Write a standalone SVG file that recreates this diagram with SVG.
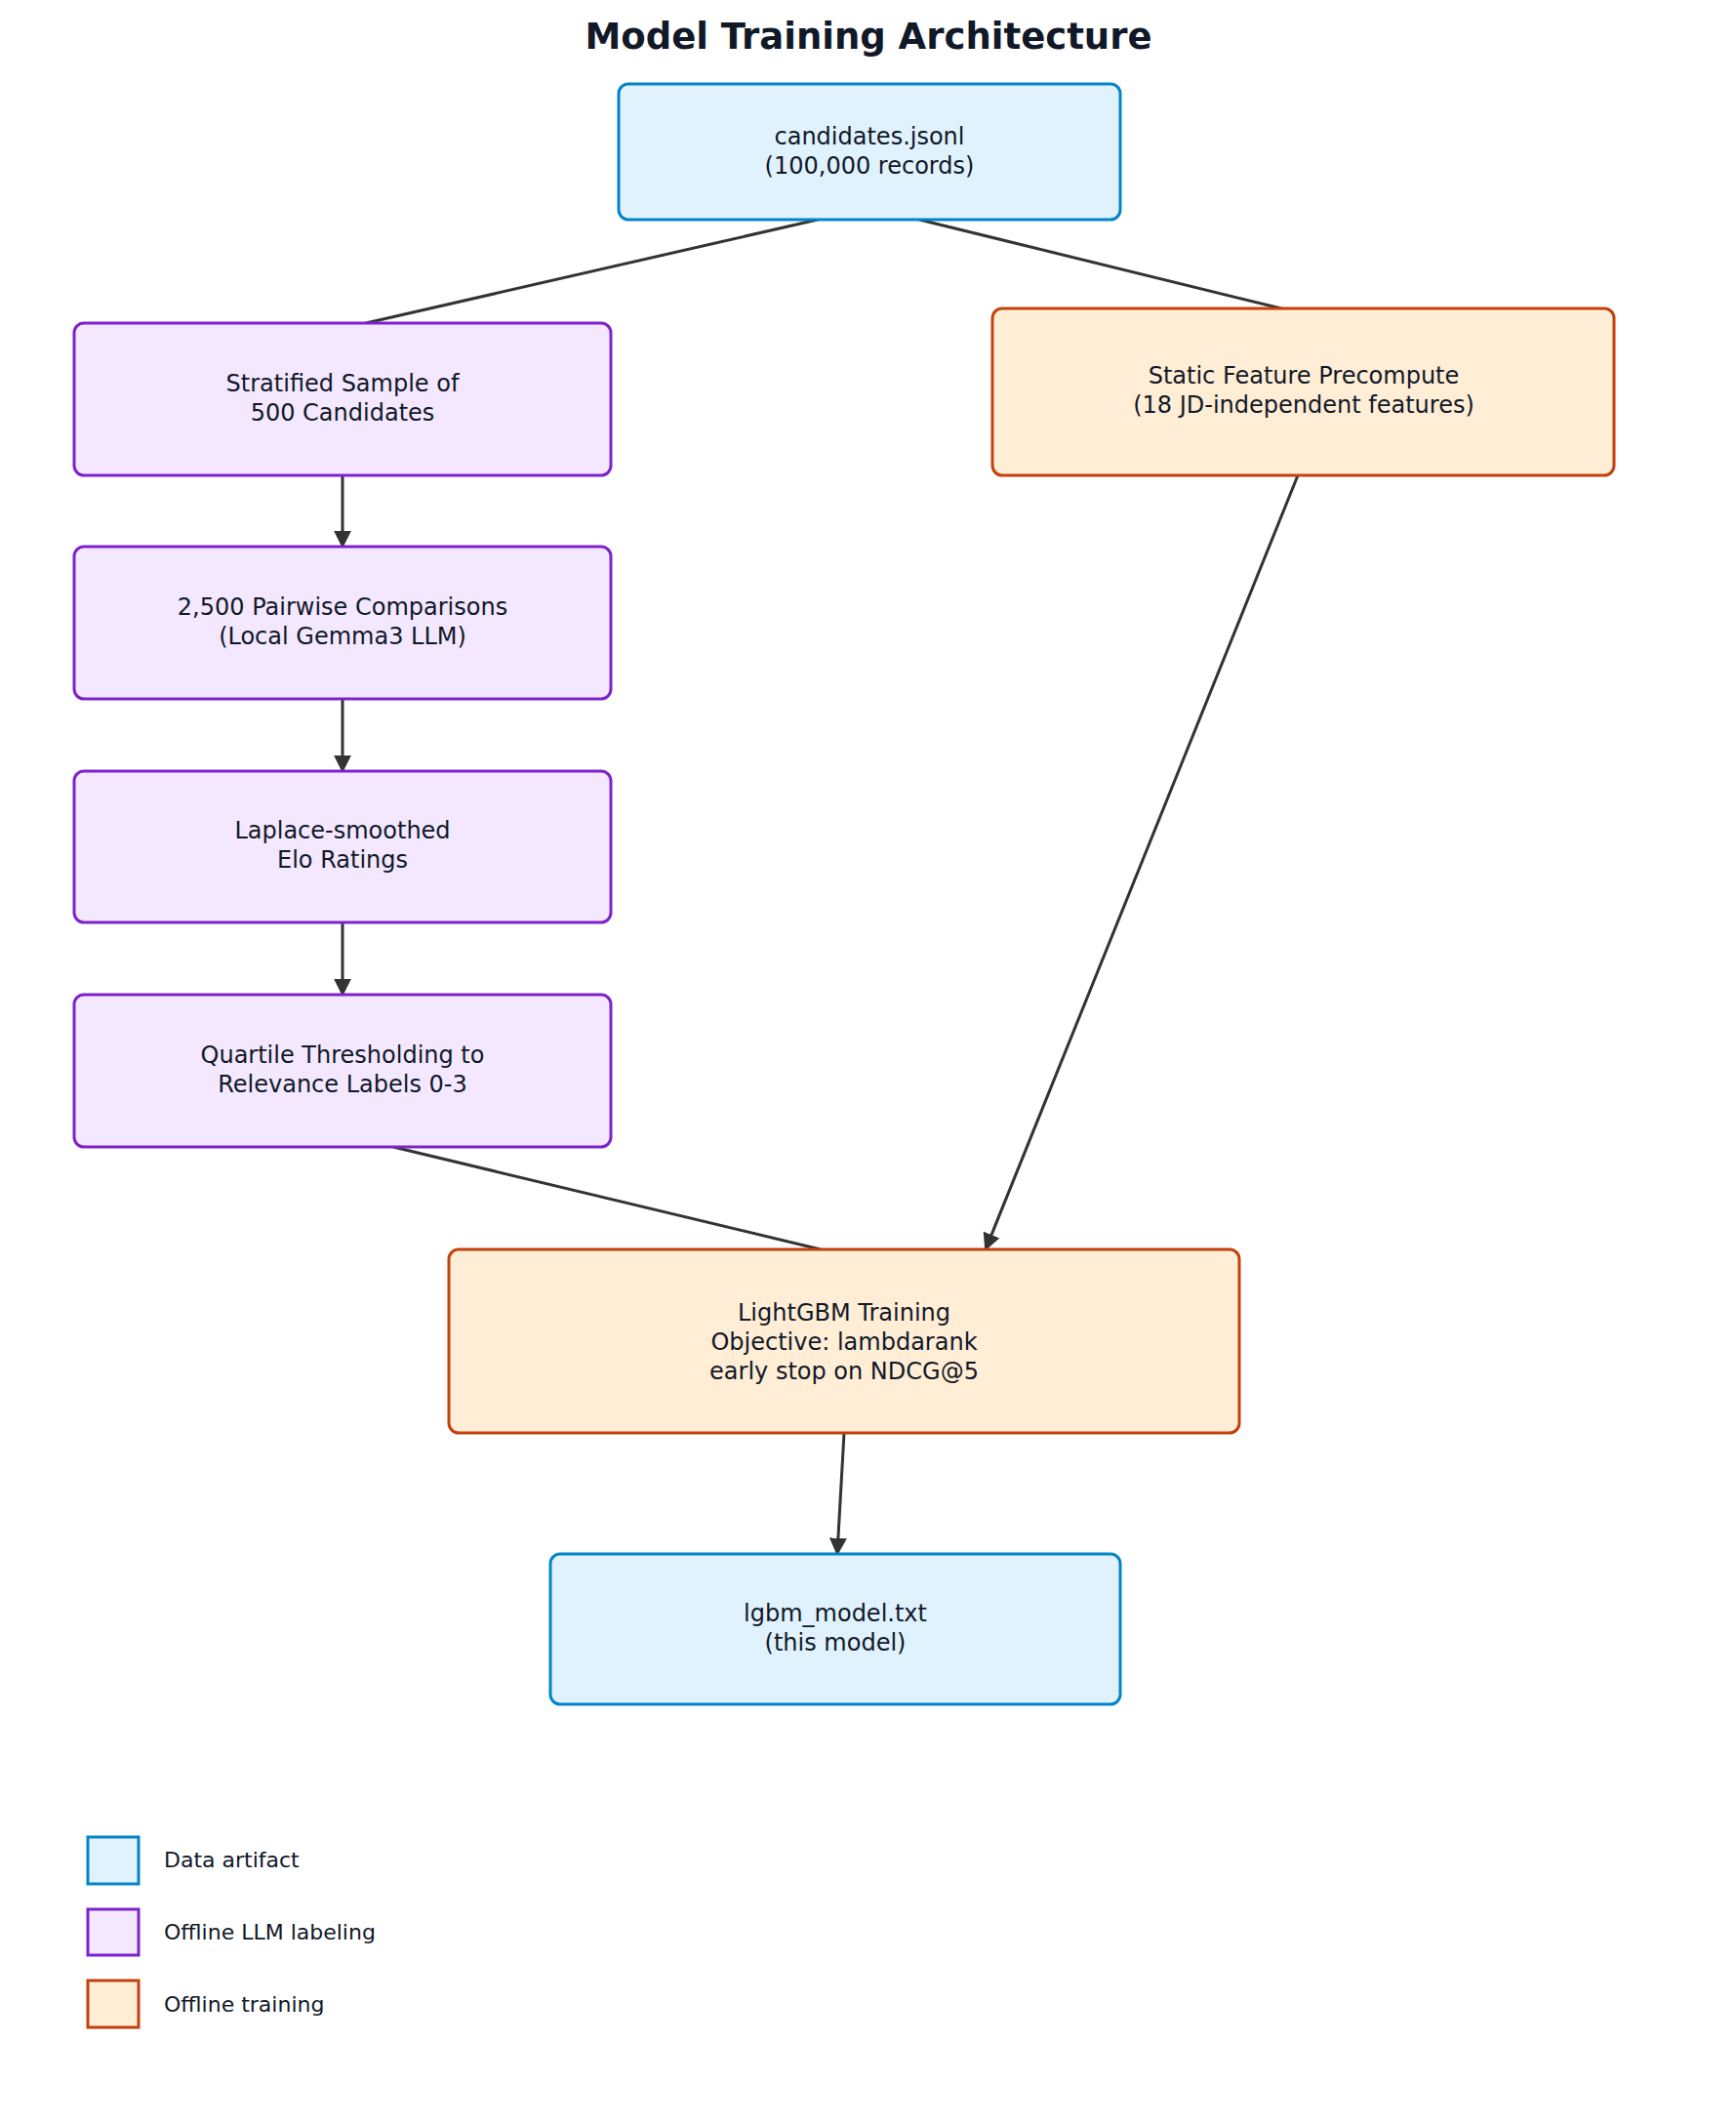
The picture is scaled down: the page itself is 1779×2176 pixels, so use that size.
<svg xmlns="http://www.w3.org/2000/svg" width="1779" height="2176" viewBox="0 0 1779 2176">
<style>
text{font-family:"DejaVu Sans",sans-serif;fill:#111827}
.t{font-size:24px;text-anchor:middle}
.l{font-size:22px}
.blue{fill:#e0f2fe;stroke:#0284c7;stroke-width:3}
.pur{fill:#f3e8ff;stroke:#7e22ce;stroke-width:3}
.org{fill:#ffedd5;stroke:#c2410c;stroke-width:3}
.e{stroke:#333;stroke-width:3;fill:none}
</style>
<defs><marker id="a" viewBox="0 0 10 10" refX="9" refY="5" markerWidth="6" markerHeight="6" orient="auto"><path d="M0,0L10,5L0,10z" fill="#333"/></marker></defs>
<rect width="1779" height="2176" fill="#fff"/>
<text x="890" y="50" style="font-size:37px;font-weight:bold;text-anchor:middle">Model Training Architecture</text>
<g id="edges">
<line class="e" x1="838" y1="225" x2="375" y2="331"/>
<line class="e" x1="942" y1="225" x2="1313" y2="316"/>
<line class="e" x1="351" y1="487" x2="351" y2="560" marker-end="url(#a)"/>
<line class="e" x1="351" y1="716" x2="351" y2="790" marker-end="url(#a)"/>
<line class="e" x1="351" y1="945" x2="351" y2="1019" marker-end="url(#a)"/>
<line class="e" x1="403" y1="1175" x2="841" y2="1280"/>
<line class="e" x1="1330" y1="487" x2="1010" y2="1280" marker-end="url(#a)"/>
<line class="e" x1="865" y1="1468" x2="858" y2="1592" marker-end="url(#a)"/>
</g>
<g id="n1"><rect class="blue" x="634" y="86" width="514" height="139" rx="10"/><text class="t" x="891" y="148">candidates.jsonl</text><text class="t" x="891" y="178">(100,000 records)</text></g>
<g id="n2"><rect class="pur" x="76" y="331" width="550" height="156" rx="10"/><text class="t" x="351" y="401">Stratified Sample of</text><text class="t" x="351" y="431">500 Candidates</text></g>
<g id="n3"><rect class="pur" x="76" y="560" width="550" height="156" rx="10"/><text class="t" x="351" y="630">2,500 Pairwise Comparisons</text><text class="t" x="351" y="660">(Local Gemma3 LLM)</text></g>
<g id="n4"><rect class="pur" x="76" y="790" width="550" height="155" rx="10"/><text class="t" x="351" y="859">Laplace-smoothed</text><text class="t" x="351" y="889">Elo Ratings</text></g>
<g id="n5"><rect class="pur" x="76" y="1019" width="550" height="156" rx="10"/><text class="t" x="351" y="1089">Quartile Thresholding to</text><text class="t" x="351" y="1119">Relevance Labels 0-3</text></g>
<g id="n6"><rect class="org" x="1017" y="316" width="637" height="171" rx="10"/><text class="t" x="1336" y="393">Static Feature Precompute</text><text class="t" x="1336" y="423">(18 JD-independent features)</text></g>
<g id="n7"><rect class="org" x="460" y="1280" width="810" height="188" rx="10"/><text class="t" x="865" y="1353">LightGBM Training</text><text class="t" x="865" y="1383">Objective: lambdarank</text><text class="t" x="865" y="1413">early stop on NDCG@5</text></g>
<g id="n8"><rect class="blue" x="564" y="1592" width="584" height="154" rx="10"/><text class="t" x="856" y="1661">lgbm_model.txt</text><text class="t" x="856" y="1691">(this model)</text></g>
<g id="legend">
<rect class="blue" x="90" y="1882" width="52" height="48"/><text class="l" x="168" y="1913">Data artifact</text>
<rect class="pur" x="90" y="1956" width="52" height="47"/><text class="l" x="168" y="1987">Offline LLM labeling</text>
<rect class="org" x="90" y="2029" width="52" height="48"/><text class="l" x="168" y="2061">Offline training</text>
</g>
</svg>
